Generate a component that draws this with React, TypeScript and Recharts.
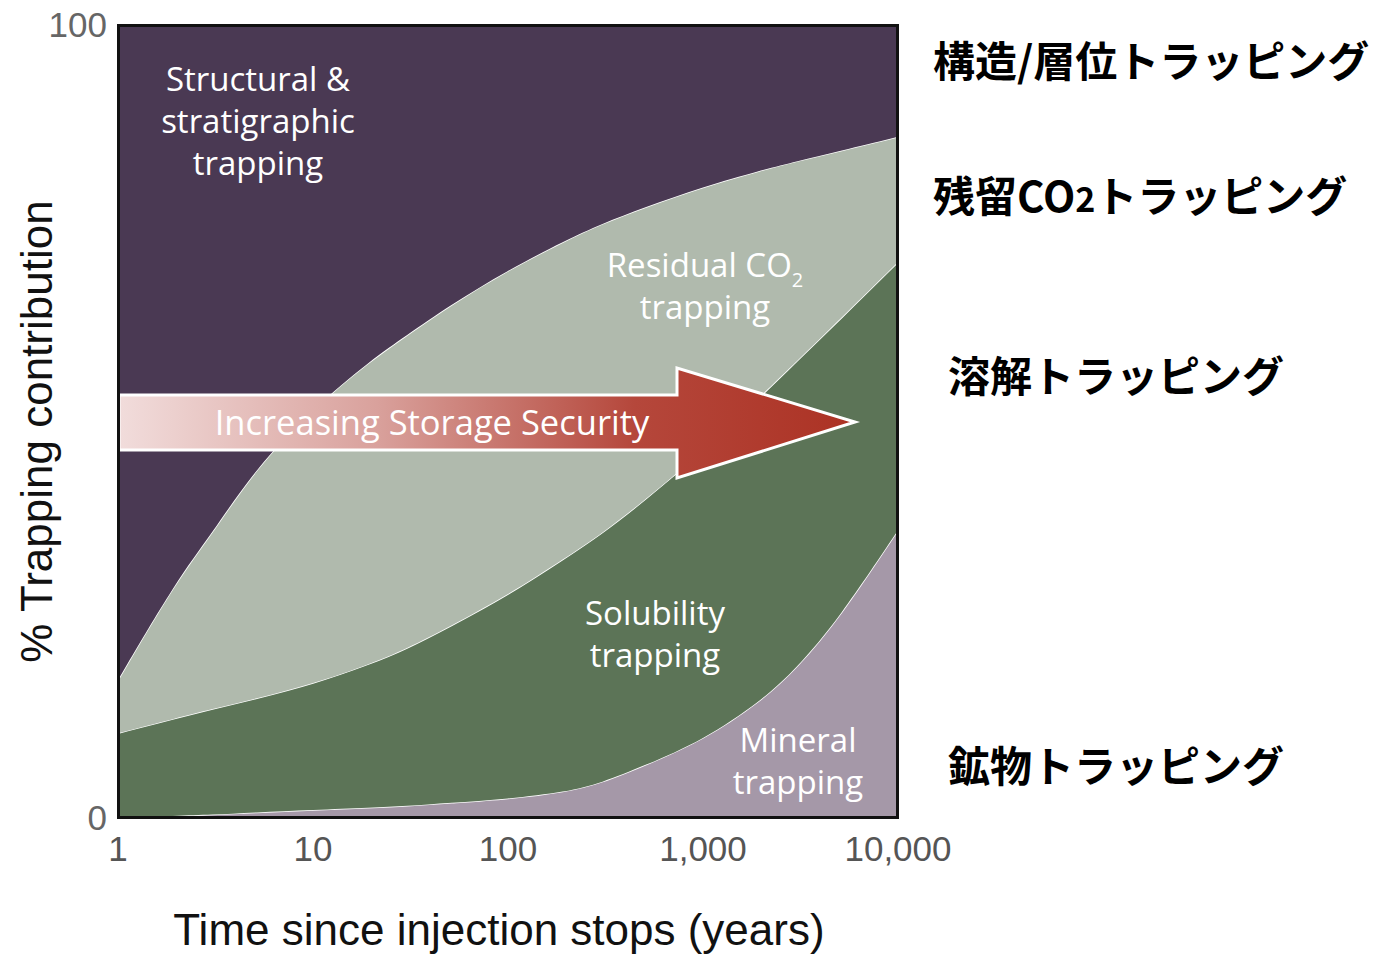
import { AreaChart, Area, XAxis, YAxis } from "recharts";

// Time since injection stops (years), log axis
const years = [1, 2, 3, 5, 10, 20, 30, 50, 100, 200, 300, 500, 1000, 2000, 3000, 5000, 10000];

// Contribution of each trapping mechanism (%), stacked bottom to top
const mineral = [0, 0.3, 0.4, 0.7, 1.0, 1.3, 1.5, 1.9, 2.4, 3.3, 4.4, 6.6, 9.8, 14.8, 18.8, 25.2, 36.3];
const solubility = [10.7, 12.3, 13.3, 14.3, 15.9, 18.2, 19.8, 22.2, 25.7, 29.6, 31.4, 33.4, 36.5, 38.5, 38.7, 37.6, 33.8];
const residual = [6.7, 17.4, 22.0, 28.9, 34.8, 38.3, 39.5, 40.5, 41.0, 40.0, 39.1, 37.0, 33.3, 28.4, 25.3, 21.3, 15.8];
const structural = [82.6, 70.0, 64.3, 56.1, 48.3, 42.2, 39.2, 35.4, 30.9, 27.1, 25.1, 23.0, 20.4, 18.3, 17.2, 15.9, 14.1];

const xTicks = [1, 10, 100, 1000, 10000];
const yTicks = [0, 100];

const data = years.map((year, i) => ({
  year,
  mineral: mineral[i],
  solubility: solubility[i],
  residual: residual[i],
  structural: structural[i],
}));

const bandFont = "'Open Sans', 'Noto Sans', sans-serif";
const jpFont = "'Noto Sans CJK JP', sans-serif";
const axisFont = "'Liberation Sans', Arial, sans-serif";

function BandLabel({ x, y, lines }: { x: number; y: number; lines: React.ReactNode[] }) {
  return (
    <g fill="#fff" fontSize={33} fontFamily={bandFont} textAnchor="middle">
      {lines.map((l, i) => (
        <text key={i} x={x} y={y + i * 42}>
          {l}
        </text>
      ))}
    </g>
  );
}

export default function App() {
  return (
    <div style={{ position: "absolute", left: 0, top: 0, width: 1382, height: 955, background: "#fff" }}>
      <AreaChart width={1382} height={955} data={data} margin={{ top: 25, right: 484, bottom: 0, left: 0 }}>
        <XAxis
          dataKey="year"
          type="number"
          scale="log"
          domain={[1, 10000]}
          ticks={xTicks}
          interval={0}
          allowDataOverflow
          height={137}
          tickLine={false}
          axisLine={false}
          tickSize={0}
          tickMargin={18}
          tick={{ fontSize: 35, fill: "#555", fontFamily: axisFont }}
          tickFormatter={(v: number) => v.toLocaleString("en-US")}
          label={{
            value: "Time since injection stops (years)",
            position: "insideBottom",
            offset: 10,
            dx: -9,
            style: { fontSize: 44, fill: "#111", fontFamily: axisFont },
          }}
        />
        <YAxis
          type="number"
          domain={[0, 100]}
          ticks={yTicks}
          width={118}
          tickLine={false}
          axisLine={false}
          tickSize={0}
          tickMargin={11}
          tick={{ fontSize: 35, fill: "#666", fontFamily: axisFont }}
          label={{
            value: "% Trapping contribution",
            angle: -90,
            position: "insideLeft",
            offset: 36,
            dy: 10,
            style: { textAnchor: "middle", fontSize: 44, fill: "#111", fontFamily: axisFont },
          }}
        />
        <Area type="basis" dataKey="mineral" stackId="t" fill="#a598a8" fillOpacity={1} stroke="#fff" strokeWidth={1.5} isAnimationActive={false} />
        <Area type="basis" dataKey="solubility" stackId="t" fill="#5c7457" fillOpacity={1} stroke="#fff" strokeWidth={1.5} isAnimationActive={false} />
        <Area type="basis" dataKey="residual" stackId="t" fill="#b0baad" fillOpacity={1} stroke="#fff" strokeWidth={1.5} isAnimationActive={false} />
        <Area type="basis" dataKey="structural" stackId="t" fill="#4a3953" fillOpacity={1} stroke="none" isAnimationActive={false} />
      </AreaChart>

      <svg width={1382} height={955} style={{ position: "absolute", left: 0, top: 0, pointerEvents: "none" }}>
        <defs>
          <linearGradient id="arrowGrad" gradientUnits="userSpaceOnUse" x1={120} y1={0} x2={855} y2={0}>
            <stop offset="0" stopColor="#f1dcdb" />
            <stop offset="0.35" stopColor="#d9a19c" />
            <stop offset="0.7" stopColor="#b5473b" />
            <stop offset="1" stopColor="#ac3224" />
          </linearGradient>
        </defs>
        <polygon
          points="119,395 677,395 677,368 855,422 677,478 677,450 119,450"
          fill="url(#arrowGrad)"
          stroke="#fff"
          strokeWidth={3}
          strokeLinejoin="miter"
        />
        <text x={432} y={435} fill="#fff" fontSize={34.5} fontFamily={bandFont} textAnchor="middle">
          Increasing Storage Security
        </text>

        <BandLabel x={258} y={91} lines={["Structural &", "stratigraphic", "trapping"]} />
        <BandLabel
          x={705}
          y={277}
          lines={[
            <>
              Residual CO<tspan fontSize={20} dy={10}>2</tspan>
            </>,
            "trapping",
          ]}
        />
        <BandLabel x={655} y={625} lines={["Solubility", "trapping"]} />
        <BandLabel x={798} y={752} lines={["Mineral", "trapping"]} />

        <rect x={118.5} y={25.5} width={779} height={792} fill="none" stroke="#111" strokeWidth={3} />

        <g fontFamily={jpFont} fontWeight={700} fontSize={42} fill="#000">
          <text x={933} y={77}>構造/層位トラッピング</text>
          <text x={933} y={212}>
            残留CO<tspan fontSize={34}>2</tspan>トラッピング
          </text>
          <text x={948} y={392}>溶解トラッピング</text>
          <text x={948} y={782}>鉱物トラッピング</text>
        </g>
      </svg>
    </div>
  );
}
